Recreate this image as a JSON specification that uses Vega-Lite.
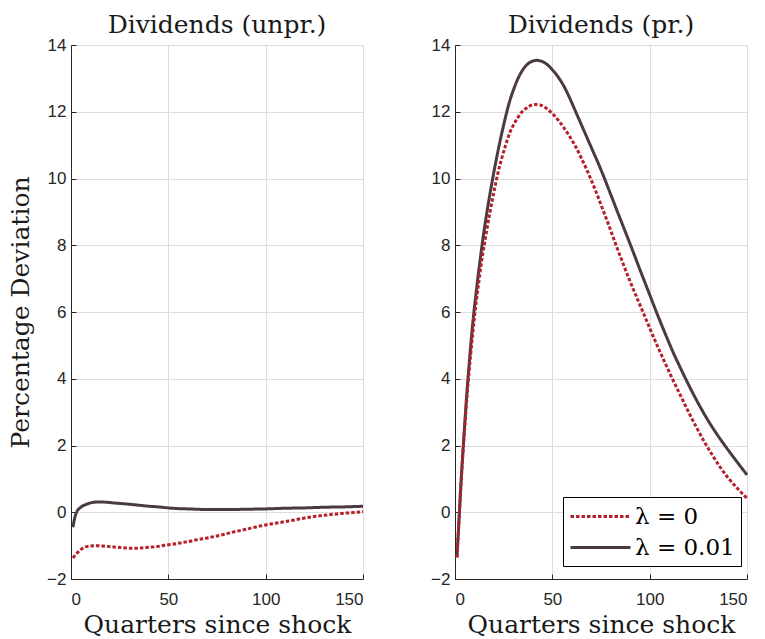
{
  "$schema": "https://vega.github.io/schema/vega-lite/v6.json",
  "background": "white",
  "padding": {"left": 8, "top": 13, "right": 0, "bottom": 0},
  "bounds": "flush",
  "spacing": 92,
  "config": {
    "view": {"stroke": null},
    "font": "DejaVu Serif",
    "axis": {
      "labelFont": "Liberation Sans", "labelFontSize": 17, "labelColor": "#262626",
      "titleFont": "DejaVu Serif", "titleFontSize": 25, "titleFontWeight": "normal", "titleColor": "#1a1a1a",
      "domainColor": "#262626", "domainWidth": 1, "tickColor": "#262626", "tickSize": -5,
      "grid": true, "gridColor": "#dddddd", "gridWidth": 1
    },
    "axisX": {"labelPadding": 17, "titlePadding": 5},
    "axisY": {"labelPadding": 10, "titlePadding": 13},
    "title": {"font": "DejaVu Serif", "fontSize": 25, "fontWeight": "normal", "color": "#1a1a1a", "frame": "group", "baseline": "alphabetic", "offset": -2}
  },
  "datasets": {
    "unpr": [
      {"quarter":1,"value":-0.45,"series":"λ = 0.01"},{"quarter":2,"value":-0.15,"series":"λ = 0.01"},{"quarter":3,"value":0.02,"series":"λ = 0.01"},{"quarter":4,"value":0.1,"series":"λ = 0.01"},{"quarter":5,"value":0.15,"series":"λ = 0.01"},{"quarter":6,"value":0.19,"series":"λ = 0.01"},{"quarter":8,"value":0.24,"series":"λ = 0.01"},{"quarter":10,"value":0.28,"series":"λ = 0.01"},{"quarter":12,"value":0.3,"series":"λ = 0.01"},{"quarter":15,"value":0.31,"series":"λ = 0.01"},{"quarter":18,"value":0.3,"series":"λ = 0.01"},{"quarter":22,"value":0.28,"series":"λ = 0.01"},{"quarter":26,"value":0.26,"series":"λ = 0.01"},{"quarter":30,"value":0.24,"series":"λ = 0.01"},{"quarter":35,"value":0.21,"series":"λ = 0.01"},{"quarter":40,"value":0.18,"series":"λ = 0.01"},{"quarter":45,"value":0.16,"series":"λ = 0.01"},{"quarter":50,"value":0.13,"series":"λ = 0.01"},{"quarter":55,"value":0.11,"series":"λ = 0.01"},{"quarter":60,"value":0.1,"series":"λ = 0.01"},{"quarter":65,"value":0.09,"series":"λ = 0.01"},{"quarter":70,"value":0.08,"series":"λ = 0.01"},{"quarter":75,"value":0.08,"series":"λ = 0.01"},{"quarter":80,"value":0.08,"series":"λ = 0.01"},{"quarter":90,"value":0.09,"series":"λ = 0.01"},{"quarter":100,"value":0.1,"series":"λ = 0.01"},{"quarter":110,"value":0.12,"series":"λ = 0.01"},{"quarter":120,"value":0.13,"series":"λ = 0.01"},{"quarter":130,"value":0.15,"series":"λ = 0.01"},{"quarter":140,"value":0.16,"series":"λ = 0.01"},{"quarter":150,"value":0.18,"series":"λ = 0.01"},
      {"quarter":1,"value":-1.37,"series":"λ = 0"},{"quarter":2,"value":-1.3,"series":"λ = 0"},{"quarter":3,"value":-1.23,"series":"λ = 0"},{"quarter":4,"value":-1.17,"series":"λ = 0"},{"quarter":5,"value":-1.12,"series":"λ = 0"},{"quarter":6,"value":-1.08,"series":"λ = 0"},{"quarter":8,"value":-1.03,"series":"λ = 0"},{"quarter":10,"value":-1.01,"series":"λ = 0"},{"quarter":13,"value":-1.0,"series":"λ = 0"},{"quarter":16,"value":-1.01,"series":"λ = 0"},{"quarter":20,"value":-1.03,"series":"λ = 0"},{"quarter":24,"value":-1.05,"series":"λ = 0"},{"quarter":28,"value":-1.07,"series":"λ = 0"},{"quarter":32,"value":-1.08,"series":"λ = 0"},{"quarter":36,"value":-1.07,"series":"λ = 0"},{"quarter":40,"value":-1.05,"series":"λ = 0"},{"quarter":44,"value":-1.03,"series":"λ = 0"},{"quarter":48,"value":-0.99,"series":"λ = 0"},{"quarter":52,"value":-0.96,"series":"λ = 0"},{"quarter":56,"value":-0.92,"series":"λ = 0"},{"quarter":60,"value":-0.88,"series":"λ = 0"},{"quarter":65,"value":-0.82,"series":"λ = 0"},{"quarter":70,"value":-0.77,"series":"λ = 0"},{"quarter":75,"value":-0.71,"series":"λ = 0"},{"quarter":80,"value":-0.64,"series":"λ = 0"},{"quarter":85,"value":-0.57,"series":"λ = 0"},{"quarter":90,"value":-0.51,"series":"λ = 0"},{"quarter":95,"value":-0.44,"series":"λ = 0"},{"quarter":100,"value":-0.38,"series":"λ = 0"},{"quarter":105,"value":-0.33,"series":"λ = 0"},{"quarter":110,"value":-0.28,"series":"λ = 0"},{"quarter":115,"value":-0.23,"series":"λ = 0"},{"quarter":120,"value":-0.17,"series":"λ = 0"},{"quarter":125,"value":-0.13,"series":"λ = 0"},{"quarter":130,"value":-0.09,"series":"λ = 0"},{"quarter":135,"value":-0.06,"series":"λ = 0"},{"quarter":140,"value":-0.03,"series":"λ = 0"},{"quarter":145,"value":-0.01,"series":"λ = 0"},{"quarter":150,"value":0.02,"series":"λ = 0"}
    ],
    "pr": [
      {"quarter":1,"value":-1.35,"series":"λ = 0.01"},{"quarter":2,"value":-0.3,"series":"λ = 0.01"},{"quarter":3,"value":0.8,"series":"λ = 0.01"},{"quarter":4,"value":1.75,"series":"λ = 0.01"},{"quarter":5,"value":2.65,"series":"λ = 0.01"},{"quarter":6,"value":3.5,"series":"λ = 0.01"},{"quarter":7,"value":4.25,"series":"λ = 0.01"},{"quarter":8,"value":4.95,"series":"λ = 0.01"},{"quarter":9,"value":5.6,"series":"λ = 0.01"},{"quarter":10,"value":6.15,"series":"λ = 0.01"},{"quarter":11,"value":6.65,"series":"λ = 0.01"},{"quarter":12,"value":7.15,"series":"λ = 0.01"},{"quarter":13,"value":7.6,"series":"λ = 0.01"},{"quarter":14,"value":8.05,"series":"λ = 0.01"},{"quarter":16,"value":8.85,"series":"λ = 0.01"},{"quarter":18,"value":9.55,"series":"λ = 0.01"},{"quarter":20,"value":10.2,"series":"λ = 0.01"},{"quarter":22,"value":10.8,"series":"λ = 0.01"},{"quarter":24,"value":11.35,"series":"λ = 0.01"},{"quarter":26,"value":11.85,"series":"λ = 0.01"},{"quarter":28,"value":12.3,"series":"λ = 0.01"},{"quarter":30,"value":12.65,"series":"λ = 0.01"},{"quarter":32,"value":12.95,"series":"λ = 0.01"},{"quarter":34,"value":13.18,"series":"λ = 0.01"},{"quarter":36,"value":13.35,"series":"λ = 0.01"},{"quarter":38,"value":13.46,"series":"λ = 0.01"},{"quarter":40,"value":13.52,"series":"λ = 0.01"},{"quarter":42,"value":13.54,"series":"λ = 0.01"},{"quarter":44,"value":13.52,"series":"λ = 0.01"},{"quarter":46,"value":13.47,"series":"λ = 0.01"},{"quarter":48,"value":13.38,"series":"λ = 0.01"},{"quarter":50,"value":13.26,"series":"λ = 0.01"},{"quarter":53,"value":13.04,"series":"λ = 0.01"},{"quarter":56,"value":12.76,"series":"λ = 0.01"},{"quarter":59,"value":12.4,"series":"λ = 0.01"},{"quarter":62,"value":12.0,"series":"λ = 0.01"},{"quarter":65,"value":11.6,"series":"λ = 0.01"},{"quarter":68,"value":11.2,"series":"λ = 0.01"},{"quarter":71,"value":10.8,"series":"λ = 0.01"},{"quarter":74,"value":10.4,"series":"λ = 0.01"},{"quarter":77,"value":9.97,"series":"λ = 0.01"},{"quarter":80,"value":9.52,"series":"λ = 0.01"},{"quarter":84,"value":8.92,"series":"λ = 0.01"},{"quarter":88,"value":8.33,"series":"λ = 0.01"},{"quarter":91,"value":7.88,"series":"λ = 0.01"},{"quarter":95,"value":7.27,"series":"λ = 0.01"},{"quarter":100,"value":6.52,"series":"λ = 0.01"},{"quarter":104,"value":5.92,"series":"λ = 0.01"},{"quarter":108,"value":5.35,"series":"λ = 0.01"},{"quarter":112,"value":4.8,"series":"λ = 0.01"},{"quarter":116,"value":4.3,"series":"λ = 0.01"},{"quarter":120,"value":3.82,"series":"λ = 0.01"},{"quarter":125,"value":3.26,"series":"λ = 0.01"},{"quarter":130,"value":2.75,"series":"λ = 0.01"},{"quarter":135,"value":2.3,"series":"λ = 0.01"},{"quarter":140,"value":1.89,"series":"λ = 0.01"},{"quarter":145,"value":1.5,"series":"λ = 0.01"},{"quarter":150,"value":1.12,"series":"λ = 0.01"},
      {"quarter":1,"value":-1.35,"series":"λ = 0"},{"quarter":2,"value":-0.3,"series":"λ = 0"},{"quarter":3,"value":0.75,"series":"λ = 0"},{"quarter":4,"value":1.7,"series":"λ = 0"},{"quarter":5,"value":2.55,"series":"λ = 0"},{"quarter":6,"value":3.35,"series":"λ = 0"},{"quarter":7,"value":4.05,"series":"λ = 0"},{"quarter":8,"value":4.7,"series":"λ = 0"},{"quarter":9,"value":5.3,"series":"λ = 0"},{"quarter":10,"value":5.85,"series":"λ = 0"},{"quarter":11,"value":6.35,"series":"λ = 0"},{"quarter":12,"value":6.8,"series":"λ = 0"},{"quarter":13,"value":7.25,"series":"λ = 0"},{"quarter":14,"value":7.65,"series":"λ = 0"},{"quarter":15,"value":8.0,"series":"λ = 0"},{"quarter":16,"value":8.35,"series":"λ = 0"},{"quarter":18,"value":9.0,"series":"λ = 0"},{"quarter":20,"value":9.6,"series":"λ = 0"},{"quarter":22,"value":10.15,"series":"λ = 0"},{"quarter":24,"value":10.6,"series":"λ = 0"},{"quarter":26,"value":11.0,"series":"λ = 0"},{"quarter":28,"value":11.35,"series":"λ = 0"},{"quarter":30,"value":11.6,"series":"λ = 0"},{"quarter":32,"value":11.8,"series":"λ = 0"},{"quarter":34,"value":11.97,"series":"λ = 0"},{"quarter":36,"value":12.08,"series":"λ = 0"},{"quarter":38,"value":12.16,"series":"λ = 0"},{"quarter":40,"value":12.21,"series":"λ = 0"},{"quarter":42,"value":12.22,"series":"λ = 0"},{"quarter":44,"value":12.2,"series":"λ = 0"},{"quarter":46,"value":12.14,"series":"λ = 0"},{"quarter":48,"value":12.05,"series":"λ = 0"},{"quarter":50,"value":11.95,"series":"λ = 0"},{"quarter":53,"value":11.75,"series":"λ = 0"},{"quarter":56,"value":11.52,"series":"λ = 0"},{"quarter":59,"value":11.25,"series":"λ = 0"},{"quarter":62,"value":10.95,"series":"λ = 0"},{"quarter":65,"value":10.6,"series":"λ = 0"},{"quarter":68,"value":10.22,"series":"λ = 0"},{"quarter":70,"value":9.95,"series":"λ = 0"},{"quarter":73,"value":9.52,"series":"λ = 0"},{"quarter":76,"value":9.06,"series":"λ = 0"},{"quarter":79,"value":8.6,"series":"λ = 0"},{"quarter":82,"value":8.12,"series":"λ = 0"},{"quarter":86,"value":7.5,"series":"λ = 0"},{"quarter":90,"value":6.91,"series":"λ = 0"},{"quarter":94,"value":6.35,"series":"λ = 0"},{"quarter":97,"value":5.94,"series":"λ = 0"},{"quarter":100,"value":5.52,"series":"λ = 0"},{"quarter":104,"value":4.98,"series":"λ = 0"},{"quarter":108,"value":4.46,"series":"λ = 0"},{"quarter":112,"value":3.96,"series":"λ = 0"},{"quarter":116,"value":3.48,"series":"λ = 0"},{"quarter":120,"value":3.0,"series":"λ = 0"},{"quarter":124,"value":2.55,"series":"λ = 0"},{"quarter":128,"value":2.12,"series":"λ = 0"},{"quarter":132,"value":1.73,"series":"λ = 0"},{"quarter":136,"value":1.37,"series":"λ = 0"},{"quarter":140,"value":1.05,"series":"λ = 0"},{"quarter":145,"value":0.72,"series":"λ = 0"},{"quarter":150,"value":0.42,"series":"λ = 0"}
    ]
  },
  "resolve": {"legend": {"color": "independent", "strokeDash": "independent"}},
  "hconcat": [
    {
      "width": 292, "height": 534,
      "title": "Dividends (unpr.)",
      "data": {"name": "unpr"},
      "mark": {"type": "line", "strokeWidth": 3, "interpolate": "monotone"},
      "encoding": {
        "x": {"field": "quarter", "type": "quantitative", "scale": {"domain": [0, 150], "nice": false}, "axis": {"values": [0, 50, 100, 150], "title": "Quarters since shock"}},
        "y": {"field": "value", "type": "quantitative", "scale": {"domain": [-2, 14], "nice": false}, "axis": {"values": [-2, 0, 2, 4, 6, 8, 10, 12, 14], "title": "Percentage Deviation"}},
        "color": {"field": "series", "type": "nominal", "scale": {"domain": ["λ = 0", "λ = 0.01"], "range": ["#b5202a", "#4a3b43"]}, "legend": null},
        "strokeDash": {"field": "series", "type": "nominal", "scale": {"domain": ["λ = 0", "λ = 0.01"], "range": [[3.5, 2], [1, 0]]}, "legend": null}
      }
    },
    {
      "width": 292, "height": 534,
      "title": "Dividends (pr.)",
      "data": {"name": "pr"},
      "mark": {"type": "line", "strokeWidth": 3, "interpolate": "monotone"},
      "encoding": {
        "x": {"field": "quarter", "type": "quantitative", "scale": {"domain": [0, 150], "nice": false}, "axis": {"values": [0, 50, 100, 150], "title": "Quarters since shock"}},
        "y": {"field": "value", "type": "quantitative", "scale": {"domain": [-2, 14], "nice": false}, "axis": {"values": [-2, 0, 2, 4, 6, 8, 10, 12, 14], "title": null}},
        "color": {"field": "series", "type": "nominal", "scale": {"domain": ["λ = 0", "λ = 0.01"], "range": ["#b5202a", "#4a3b43"]},
          "legend": {"orient": "none", "legendX": 108, "legendY": 452, "title": null, "symbolType": "M-2.5,0H2.5", "symbolSize": 576, "symbolOffset": 18, "symbolStrokeWidth": 3, "labelFont": "DejaVu Serif", "labelFontSize": 23, "labelColor": "#000000", "labelOffset": 21, "strokeColor": "#000000", "fillColor": "#ffffff", "padding": 6, "rowPadding": 5}},
        "strokeDash": {"field": "series", "type": "nominal", "scale": {"domain": ["λ = 0", "λ = 0.01"], "range": [[3.5, 2], [1, 0]]},
          "legend": {"orient": "none", "legendX": 108, "legendY": 452, "title": null, "symbolType": "M-2.5,0H2.5", "symbolSize": 576, "symbolOffset": 18, "symbolStrokeWidth": 3, "labelFont": "DejaVu Serif", "labelFontSize": 23, "labelColor": "#000000", "labelOffset": 21, "strokeColor": "#000000", "fillColor": "#ffffff", "padding": 6, "rowPadding": 5}}
      }
    }
  ]
}
